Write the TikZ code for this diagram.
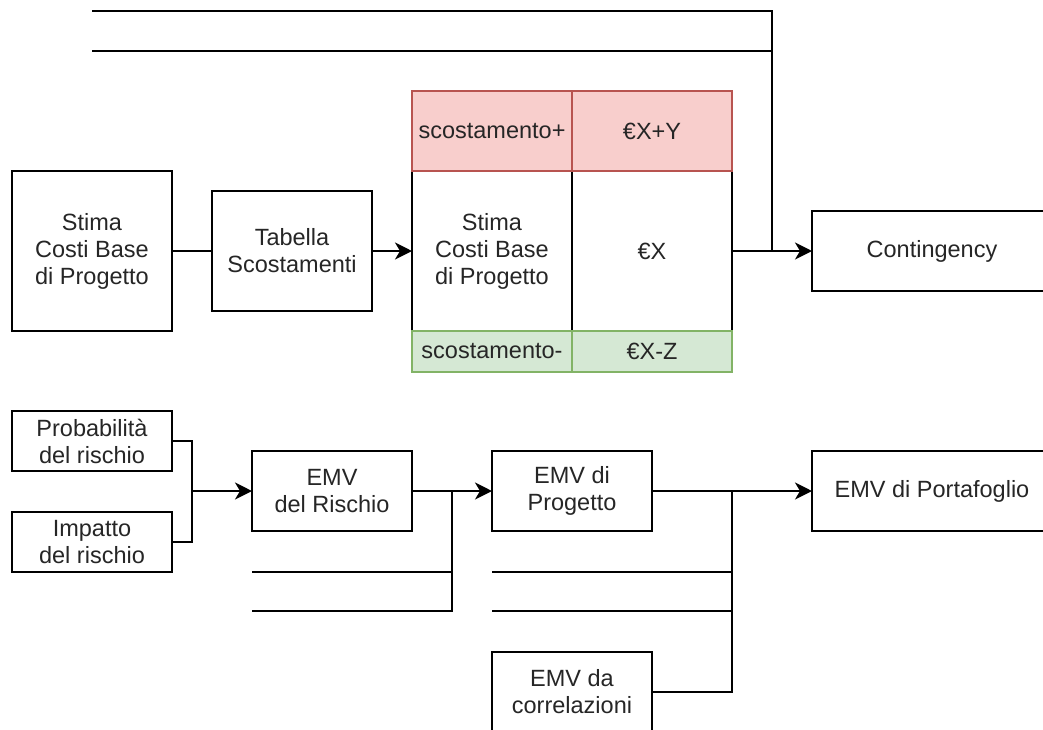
\documentclass[tikz,border=0pt]{standalone}
\usepackage{fontspec}
\setmainfont{Liberation Sans}
\usetikzlibrary{arrows.meta}
\definecolor{txt}{HTML}{262626}
\definecolor{redfill}{HTML}{F8CECC}
\definecolor{redline}{HTML}{B85450}
\definecolor{greenfill}{HTML}{D5E8D4}
\definecolor{greenline}{HTML}{82B366}
\newcommand{\dfont}{\fontsize{23.5pt}{27pt}\selectfont}
\begin{document}
\begin{tikzpicture}[x=1pt,y=-1pt,
  box/.style={draw=black, line width=1.8pt, fill=white, inner sep=0pt, outer sep=0pt, align=center, font=\dfont, text=txt},
  redcell/.style={box, draw=redline, fill=redfill},
  greencell/.style={box, draw=greenline, fill=greenfill},
  conn/.style={line width=1.8pt, draw=black},
  arr/.style={conn, -{Stealth[length=17pt,width=17pt,inset=5pt]}},
]
\useasboundingbox (0,0) rectangle (1043,729);
\clip (0,0) rectangle (1043,729);

% top row
\node[box, minimum width=160pt, minimum height=160pt] (s1) at (92,251) {Stima\\Costi Base\\di Progetto};
\node[box, minimum width=160pt, minimum height=120pt] (tab) at (292,251) {Tabella\\Scostamenti};

% table
\node[box, minimum width=160pt, minimum height=160pt] (m1) at (492,251) {Stima\\Costi Base\\di Progetto};
\node[box, minimum width=160pt, minimum height=160pt] (m2) at (652,251) {€X};
\node[redcell, minimum width=160pt, minimum height=80pt] (r1) at (492,131) {scostamento+};
\node[redcell, minimum width=160pt, minimum height=80pt] (r2) at (652,131) {€X+Y};
\node[greencell, minimum width=160pt, minimum height=41pt] (g1) at (492,351.5) {scostamento-};
\node[greencell, minimum width=160pt, minimum height=41pt] (g2) at (652,351.5) {€X-Z};

\node[box, minimum width=240pt, minimum height=80pt] (cont) at (932,251) {Contingency};

\draw[conn] (s1) -- (tab);
\draw[arr] (tab) -- (m1);
\draw[arr] (m2) -- (cont);

\coordinate (c1) at (92,11);
\coordinate (c2) at (92,51);
\coordinate (j3) at (772,251);
\draw[conn] (c1) -| (j3);
\draw[conn] (c2) -- (c2 -| j3);

% bottom row
\node[box, minimum width=160pt, minimum height=60pt] (prob) at (92,441) {Probabilità\\del rischio};
\node[box, minimum width=160pt, minimum height=60pt] (imp) at (92,542) {Impatto\\del rischio};
\node[box, minimum width=160pt, minimum height=80pt] (rk) at (332,491) {EMV\\del Rischio};
\node[box, minimum width=160pt, minimum height=80pt] (pg) at (572,491) {EMV di\\Progetto};
\node[box, minimum width=240pt, minimum height=80pt] (pf) at (932,491) {EMV di Portafoglio};
\node[box, minimum width=160pt, minimum height=80pt] (corr) at (572,692) {EMV da\\correlazioni};

\coordinate (m0) at (192,491);
\draw[conn] (prob.east) -| (m0);
\draw[conn] (imp.east) -| (m0);
\draw[arr] (m0) -- (rk.west);

\coordinate (a1) at (252,572);
\coordinate (a2) at (252,611);
\coordinate (j1) at (452,491);
\draw[conn] (a1) -| (j1);
\draw[conn] (a2) -| (j1);
\draw[arr] (rk.east) -- (pg.west);

\coordinate (b1) at (492,572);
\coordinate (b2) at (492,611);
\coordinate (j2) at (732,491);
\draw[conn] (b1) -| (j2);
\draw[conn] (b2) -| (j2);
\draw[conn] (corr.east) -| (j2);
\draw[arr] (pg.east) -- (pf.west);
\end{tikzpicture}
\end{document}
